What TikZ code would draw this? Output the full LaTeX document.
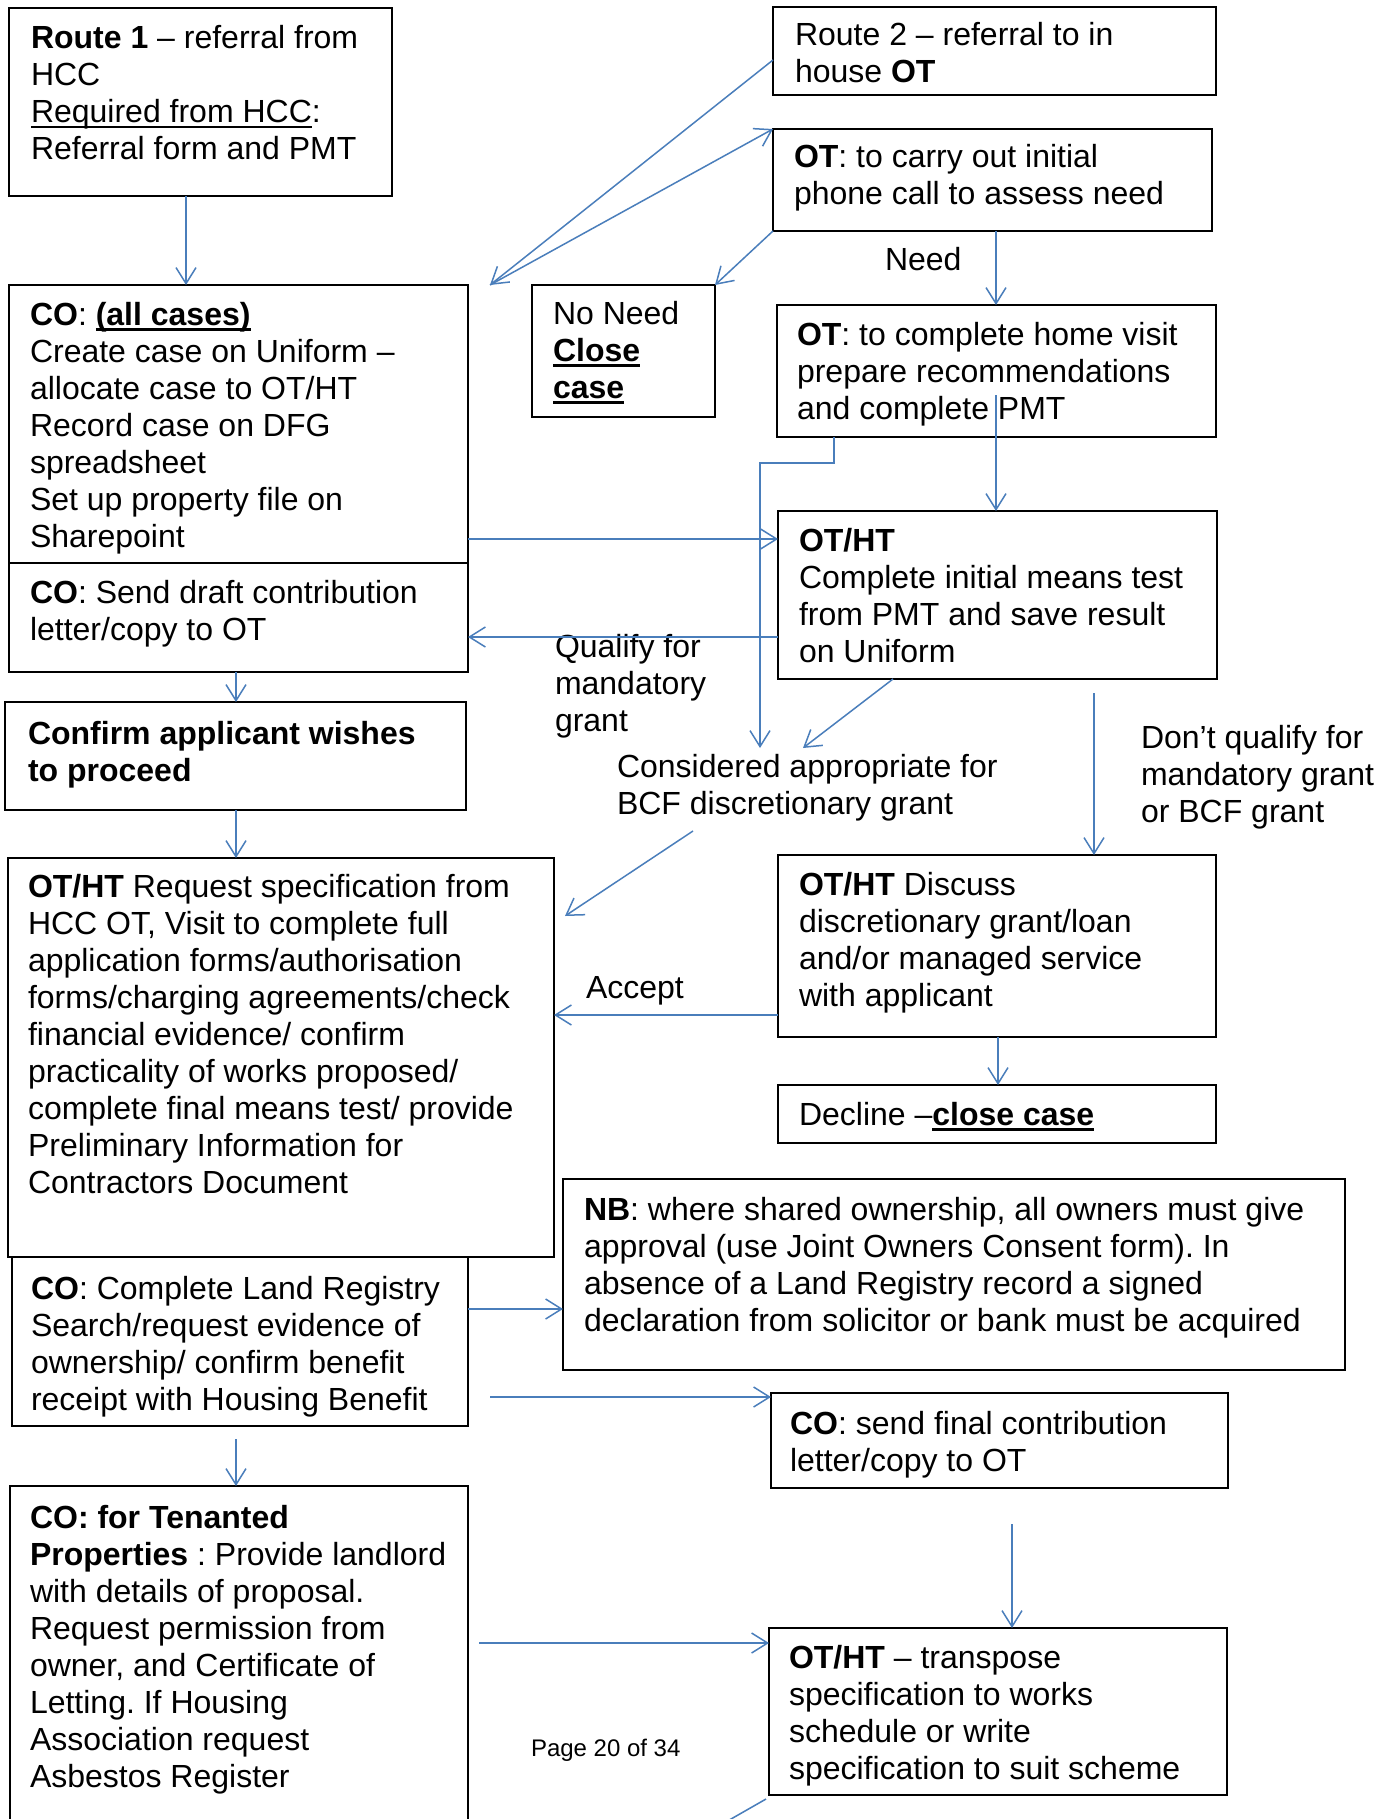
\documentclass[tikz,border=0pt]{standalone}
\usepackage{fontspec}
\setmainfont{Liberation Sans}
\usetikzlibrary{arrows.meta,calc}
\definecolor{arrowblue}{RGB}{74,126,187}
\newcommand\myul[1]{\setbox0\hbox{#1}\rlap{\vrule width\wd0 height -3pt depth 5.5pt}\box0}
\frenchspacing
\begin{document}
\begin{tikzpicture}[x=1pt,y=-1pt,
  bx/.style={draw=black, line width=2pt, anchor=north west, inner sep=0pt, outer sep=0pt},
  txt/.style={anchor=base west, inner sep=0pt, outer sep=0pt, align=left, font=\fontsize{32}{37}\selectfont},
  arr/.style={draw=arrowblue, line width=1.5pt, -{Straight Barb[length=16pt,width=20pt,line width=1.5pt]}},
  ln/.style={draw=arrowblue, line width=1.5pt}]
\fill[white] (0,0) rectangle (1389,1819);
\useasboundingbox (0,0) rectangle (1389,1819);
% boxes
\node[bx, minimum width=383, minimum height=188] (r1) at (9,8) {};
\node[bx, minimum width=443, minimum height=88] (r2) at (773,7) {};
\node[bx, minimum width=439, minimum height=102] (phone) at (773,129) {};
\node[bx, minimum width=183, minimum height=132] (noneed) at (532,285) {};
\node[bx, minimum width=439, minimum height=132] (home) at (777,305) {};
\node[bx, minimum width=459, minimum height=278] (co1) at (9,285) {};
\node[bx, minimum width=459, minimum height=109] (co2) at (9,563) {};
\node[bx, minimum width=461, minimum height=108] (confirm) at (5,702) {};
\node[bx, minimum width=439, minimum height=168] (means) at (778,511) {};
\node[bx, minimum width=438, minimum height=182] (discuss) at (778,855) {};
\node[bx, minimum width=438, minimum height=58] (decline) at (778,1085) {};
\node[bx, minimum width=546, minimum height=399] (big) at (8,858) {};
\node[bx, minimum width=456, minimum height=169] (land) at (12,1257) {};
\node[bx, minimum width=782, minimum height=191] (nb) at (563,1179) {};
\node[bx, minimum width=457, minimum height=95] (final) at (771,1393) {};
\node[bx, minimum width=458, minimum height=350] (tenant) at (10,1486) {};
\node[bx, minimum width=458, minimum height=167] (transpose) at (769,1628) {};
% texts (anchor = baseline of last line)
\node[txt] (r1t) at (31,160) {\textbf{Route 1} – referral from\\HCC\\\myul{Required from HCC}:\\Referral form and PMT};
\node[txt] (r2t) at (795,83) {Route 2 – referral to in\\house \textbf{OT}};
\node[txt] (phonet) at (794,205) {\textbf{OT}: to carry out initial\\phone call to assess need};
\node[txt] (noneedt) at (553,398) {No Need\\\myul{\textbf{Close}}\\\myul{\textbf{case}}};
\node[txt] (homet) at (797,419) {\textbf{OT}: to complete home visit\\prepare recommendations\\and complete PMT};
\node[txt] (co1t) at (30,547) {\textbf{CO}: \myul{\textbf{(all cases)}}\\Create case on Uniform –\\allocate case to OT/HT\\Record case on DFG\\spreadsheet\\Set up property file on\\Sharepoint};
\node[txt] (co2t) at (30,640) {\textbf{CO}: Send draft contribution\\letter/copy to OT};
\node[txt] (confirmt) at (28,781) {\textbf{Confirm applicant wishes}\\\textbf{to proceed}};
\node[txt] (meanst) at (799,662) {\textbf{OT/HT}\\Complete initial means test\\from PMT and save result\\on Uniform};
\node[txt] (qualify) at (555,731) {Qualify for\\mandatory\\grant};
\node[txt] (considered) at (617,814) {Considered appropriate for\\BCF discretionary grant};
\node[txt] (dontq) at (1141,822) {Don’t qualify for\\mandatory grant\\or BCF grant};
\node[txt] (need) at (885,270) {Need};
\node[txt] (discusst) at (799,1006) {\textbf{OT/HT} Discuss\\discretionary grant/loan\\and/or managed service\\with applicant};
\node[txt] (accept) at (586,998) {Accept};
\node[txt] (declinet) at (799,1125) {Decline –\myul{\textbf{close case}}};
\node[txt] (bigt) at (28,1193) {\textbf{OT/HT} Request specification from\\HCC OT, Visit to complete full\\application forms/authorisation\\forms/charging agreements/check\\financial evidence/ confirm\\practicality of works proposed/\\complete final means test/ provide\\Preliminary Information for\\Contractors Document};
\node[txt] (landt) at (31,1410) {\textbf{CO}: Complete Land Registry\\Search/request evidence of\\ownership/ confirm benefit\\receipt with Housing Benefit};
\node[txt] (nbt) at (584,1331) {\textbf{NB}: where shared ownership, all owners must give\\approval (use Joint Owners Consent form). In\\absence of a Land Registry record a signed\\declaration from solicitor or bank must be acquired};
\node[txt] (finalt) at (790,1471) {\textbf{CO}: send final contribution\\letter/copy to OT};
\node[txt] (tenantt) at (30,1787) {\textbf{CO: for Tenanted}\\\textbf{Properties} : Provide landlord\\with details of proposal.\\Request permission from\\owner, and Certificate of\\Letting. If Housing\\Association request\\Asbestos Register};
\node[txt] (transposet) at (789,1779) {\textbf{OT/HT} – transpose\\specification to works\\schedule or write\\specification to suit scheme};
\node[txt, font=\fontsize{24}{28}\selectfont] (page) at (531,1756) {Page 20 of 34};
% connectors
\coordinate (j) at ($(co1.north east)+(22,0)$);
\draw[arr] ($(r1.south west)+(177,0)$) -- ($(co1.north west)+(177,0)$);
\draw[arr] ($(r2.north west)+(0,53)$) -- (j);
\draw[arr] (j) -- (phone.north west);
\draw[arr] (phone.south west) -- (noneed.north east);
\draw[arr] ($(phone.south west)+(223,0)$) -- ($(home.north west)+(219,0)$);
\draw[arr] ($(home.south west)+(219,-42)$) -- ($(means.north west)+(218,0)$);
\draw[arr] ($(home.south west)+(57,0)$) -- ++(0,26) -| ($(considered.base west)+(143,-66)$);
\draw[arr] ($(co1.north east)+(0,254)$) -- ($(means.north west)+(0,28)$);
\draw[arr] ($(means.north west)+(0,126)$) -- ($(co2.north east)+(0,74)$);
\draw[arr] ($(means.south west)+(115,0)$) -- ($(considered.base west)+(186,-66)$);
\draw[arr] ($(means.south west)+(316,14)$) -- ($(discuss.north west)+(316,0)$);
\draw[arr] ($(co2.south west)+(227,0)$) -- ($(confirm.north west)+(231,0)$);
\draw[arr] ($(confirm.south west)+(231,0)$) -- ($(big.north west)+(228,0)$);
\draw[arr] ($(considered.base west)+(76,17)$) -- ($(big.north east)+(11,58)$);
\draw[arr] ($(discuss.north west)+(0,160)$) -- ($(big.north east)+(0,157)$);
\draw[arr] ($(discuss.south west)+(220,0)$) -- ($(decline.north west)+(220,0)$);
\draw[arr] ($(land.north east)+(0,52)$) -- ($(nb.north west)+(0,130)$);
\draw[arr] ($(land.south east)+(22,-29)$) -- ($(final.north west)+(0,4)$);
\draw[arr] ($(land.south west)+(224,13)$) -- ($(tenant.north west)+(226,0)$);
\draw[arr] ($(final.south west)+(241,36)$) -- ($(transpose.north west)+(243,0)$);
\draw[arr] ($(tenant.north east)+(11,157)$) -- ($(transpose.north west)+(0,15)$);
\draw[ln] ($(transpose.south west)+(-3,4)$) -- ++(-70,40);
\end{tikzpicture}
\end{document}
